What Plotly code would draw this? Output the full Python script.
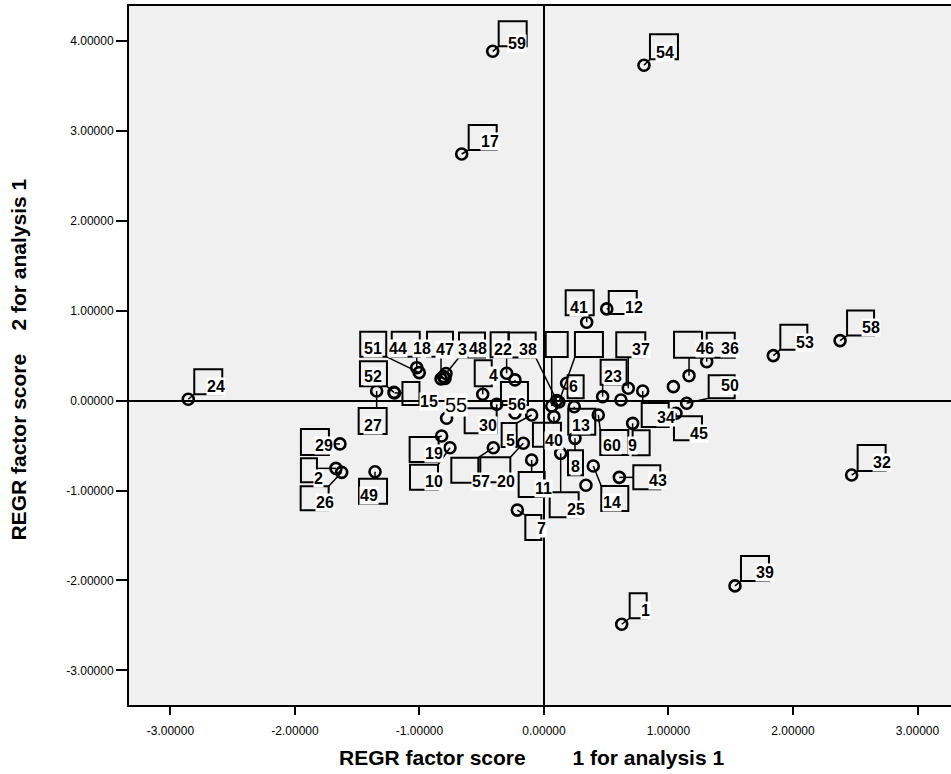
import plotly.graph_objects as go

# ---------------- data ----------------
case_labels = ["59", "17", "54", "24", "53", "58", "32", "39", "1", "27",
               "52", "15", "51", "44", "18", "47", "3", "48", "4", "55",
               "22", "38", "56", "5", "30", "19", "10", "57", "20", "11",
               "7", "40", "8", "25", "13", "6", "23", "37", "9", "60",
               "34", "45", "50", "46", "36", "41", "12", "43", "14", "29",
               "2", "26", "49", "16", "21", "28", "31", "33", "35", "42"]
score1 = [-0.412, -0.661, 0.803, -2.857, 1.842, 2.378, 2.471, 1.534, 0.624, -1.344,
          -1.205, -1.201, -1.002, -1.022, -0.827, -0.807, -0.787, -0.799, -0.492, -0.782,
          -0.300, 0.102, -0.233, -0.099, -0.380, -0.822, -0.755, -0.407, -0.166, -0.099,
          -0.214, 0.080, 0.249, 0.134, 0.243, 0.182, 0.471, 0.677, 0.712, 0.436,
          0.793, 1.060, 1.146, 1.165, 1.307, 0.343, 0.504, 0.605, 0.396, -1.639,
          -1.671, -1.625, -1.357, 0.062, -0.233, 1.039, 0.337, 0.618, 0.120, -0.795]
score2 = [3.886, 2.744, 3.731, 0.016, 0.501, 0.668, -0.827, -2.060, -2.487, 0.108,
          0.093, 0.086, 0.312, 0.367, 0.243, 0.269, 0.303, 0.253, 0.071, -0.196,
          0.305, 0.002, 0.231, -0.159, -0.040, -0.393, -0.523, -0.523, -0.474, -0.660,
          -1.217, -0.178, -0.419, -0.586, -0.067, 0.194, 0.045, 0.138, -0.252, -0.159,
          0.108, -0.140, -0.029, 0.278, 0.434, 0.873, 1.021, -0.853, -0.727, -0.481,
          -0.753, -0.797, -0.791, -0.059, -0.137, 0.156, -0.940, 0.008, -0.015, 0.248]
hidden_labels = {"16", "21", "28", "31", "33", "35", "42"}   # labels covered in the original

tick_values_x = [-3, -2, -1, 0, 1, 2, 3]
tick_values_y = [-3, -2, -1, 0, 1, 2, 3, 4]

# ---------------- label layout (pixel offsets from each point, screen y down) ----------------
# label: (box x0, y0, x1, y1) , (text centre dx, dy)
label_layout = {
    "59": ((6, -30, 34, -5), (24, -8)),
    "17": ((7, -29, 35, -4), (28, -12)),
    "54": ((6, -31, 34, -6), (21, -13)),
    "24": ((6, -30, 34, -5), (28, -13)),
    "53": ((7, -31, 34, -6), (32, -13)),
    "58": ((7, -30, 34, -5), (31, -13)),
    "32": ((6, -30, 34, -4), (30, -13)),
    "39": ((6, -30, 34, -5), (30, -13)),
    "1": ((8, -31, 25, -6), (24, -14)),
    "27": ((-18, 17, 10, 43), (-4, 35)),
    "52": ((-34, -31, -7, -6), (-21, -16)),
    "15": ((8, -11, 25, 12), (35, 9)),
    "51": ((-59, -41, -33, -16), (-46, -24)),
    "44": ((-25, -36, 3, -11), (-19, -19)),
    "18": ((-14, -47, 12, -22), (-19, -30)),
    "47": (None, (1, -27)),
    "3": ((13, -41, 39, -16), (16, -24)),
    "48": (None, (33, -29)),
    "4": ((-8, -34, 9, -8), (11, -19)),
    "55": (None, (9, -13)),
    "22": ((-16, -41, 2, -16), (-4, -24)),
    "38": ((-48, -68, -21, -43), (-29, -51)),
    "56": ((-14, 2, 13, 25), (2, 25)),
    "5": ((-30, 8, -15, 32), (-21, 26)),
    "30": ((-32, 4, 0, 29), (-9, 21)),
    "19": ((-32, 1, -3, 26), (-8, 17)),
    "10": ((-40, 17, -12, 42), (-16, 34)),
    "57": ((-42, 10, -15, 35), (-12, 34)),
    "20": ((-43, 14, -13, 39), (-17, 38)),
    "11": ((-13, 12, 13, 37), (12, 28)),
    "7": ((8, 5, 24, 30), (24, 18)),
    "40": ((-21, 6, 7, 30), (0, 24)),
    "8": ((-7, 12, 8, 37), (1, 28)),
    "25": ((-11, 39, 18, 64), (15, 56)),
    "13": ((-6, 2, 21, 28), (7, 19)),
    "6": ((1, -8, 17, 15), (7, 3)),
    "23": ((-2, -37, 24, -12), (10, -20)),
    "37": ((-12, -56, 17, -31), (13, -39)),
    "9": ((0, 7, 17, 32), (0, 22)),
    "60": ((2, 15, 30, 40), (14, 31)),
    "34": ((-1, 12, 26, 36), (23, 27)),
    "45": ((-2, 3, 26, 27), (23, 20)),
    "50": ((22, -28, 48, -5), (43, -18)),
    "46": ((-15, -44, 13, -18), (16, -27)),
    "36": ((0, -29, 28, -4), (23, -13)),
    "41": ((-21, -32, 7, -7), (-8, -15)),
    "12": ((2, -18, 30, 5), (27, -1)),
    "43": ((14, -12, 41, 12), (39, 3)),
    "14": ((8, 20, 35, 45), (19, 36)),
    "29": ((-39, -15, -11, 11), (-16, 2)),
    "2": ((-35, -10, -19, 14), (-17, 10)),
    "26": ((-41, 14, -13, 38), (-17, 30)),
    "49": ((-16, 7, 12, 32), (-6, 24)),
    "16": ((-6, -74, 16, -49), None),
    "35": ((16, -70, 44, -45), None),
}

FAMILY = "Liberation Sans, Arial, sans-serif"
LABEL_FONT = dict(family=FAMILY, size=16, color="black", weight="bold")


def clamp(v, lo, hi):
    return max(lo, min(hi, v))


fig = go.Figure()

shapes = []
annotations = []
for lab, xv, yv in zip(case_labels, score1, score2):
    box, txt = label_layout.get(lab, (None, None))
    if box is not None:
        bx0, by0, bx1, by1 = box
        shapes.append(dict(type="rect", xref="x", yref="y", xsizemode="pixel", ysizemode="pixel",
                           xanchor=xv, yanchor=yv, x0=bx0, x1=bx1, y0=-by0, y1=-by1,
                           line=dict(color="black", width=2), fillcolor="rgba(0,0,0,0)",
                           layer="below"))
        cx = clamp(0, bx0, bx1)
        cy = clamp(0, by0, by1)
        if abs(cx) + abs(cy) > 0.5:
            shapes.append(dict(type="line", xref="x", yref="y", xsizemode="pixel", ysizemode="pixel",
                               xanchor=xv, yanchor=yv, x0=0, x1=cx, y0=0, y1=-cy,
                               line=dict(color="black", width=1.5), layer="below"))
    if txt is not None and lab not in hidden_labels:
        font = dict(LABEL_FONT)
        if lab == "55":
            font = dict(family=FAMILY, size=20, color="black", weight="normal")
        annotations.append(dict(x=xv, y=yv, xref="x", yref="y", text=lab, showarrow=False,
                                xshift=txt[0], yshift=-txt[1], xanchor="center", yanchor="middle",
                                bgcolor="white", borderpad=0, font=font))

fig.add_trace(go.Scatter(
    x=score1, y=score2, mode="markers", text=case_labels, hoverinfo="text",
    marker=dict(symbol="circle-open", size=11, color="black", line=dict(width=2.6, color="black")),
    showlegend=False,
))

title_font = dict(family=FAMILY, size=21, color="black", weight="bold")
annotations.append(dict(xref="paper", yref="paper", x=0.490, y=-0.075, xanchor="center", yanchor="middle",
                        text="REGR factor score" + "\u00a0" * 8 + "1 for analysis 1",
                        showarrow=False, font=title_font))
annotations.append(dict(xref="paper", yref="paper", x=-0.134, y=0.494, xanchor="center", yanchor="middle",
                        text="REGR factor score\u00a0\u00a0\u00a0\u00a02 for analysis 1", textangle=-90,
                        showarrow=False, font=title_font))

tick_font = dict(family=FAMILY, size=12, color="black")

fig.update_layout(
    width=951, height=774,
    margin=dict(l=129, r=0, t=6, b=69, autoexpand=False),
    paper_bgcolor="white",
    plot_bgcolor="#f0f0f0",
    shapes=shapes,
    annotations=annotations,
    xaxis=dict(range=[-3.333, 3.269], tickvals=tick_values_x,
               ticktext=["%.5f" % v for v in tick_values_x],
               ticks="outside", ticklen=8, tickwidth=2, tickcolor="black",
               showline=True, linewidth=2, linecolor="black", mirror=True,
               showgrid=False, zeroline=True, zerolinecolor="black", zerolinewidth=2,
               tickfont=tick_font, ticklabelstandoff=6, automargin=False),
    yaxis=dict(range=[-3.385, 4.390], tickvals=tick_values_y,
               ticktext=["%.5f" % v for v in tick_values_y],
               ticks="outside", ticklen=11, tickwidth=2, tickcolor="black",
               showline=True, linewidth=2, linecolor="black", mirror=False,
               showgrid=False, zeroline=True, zerolinecolor="black", zerolinewidth=2,
               tickfont=tick_font, automargin=False),
)

fig.write_html("out.html",
               config={"displayModeBar": False},
               post_script="document.body.style.margin='0';document.body.style.overflow='hidden';")
